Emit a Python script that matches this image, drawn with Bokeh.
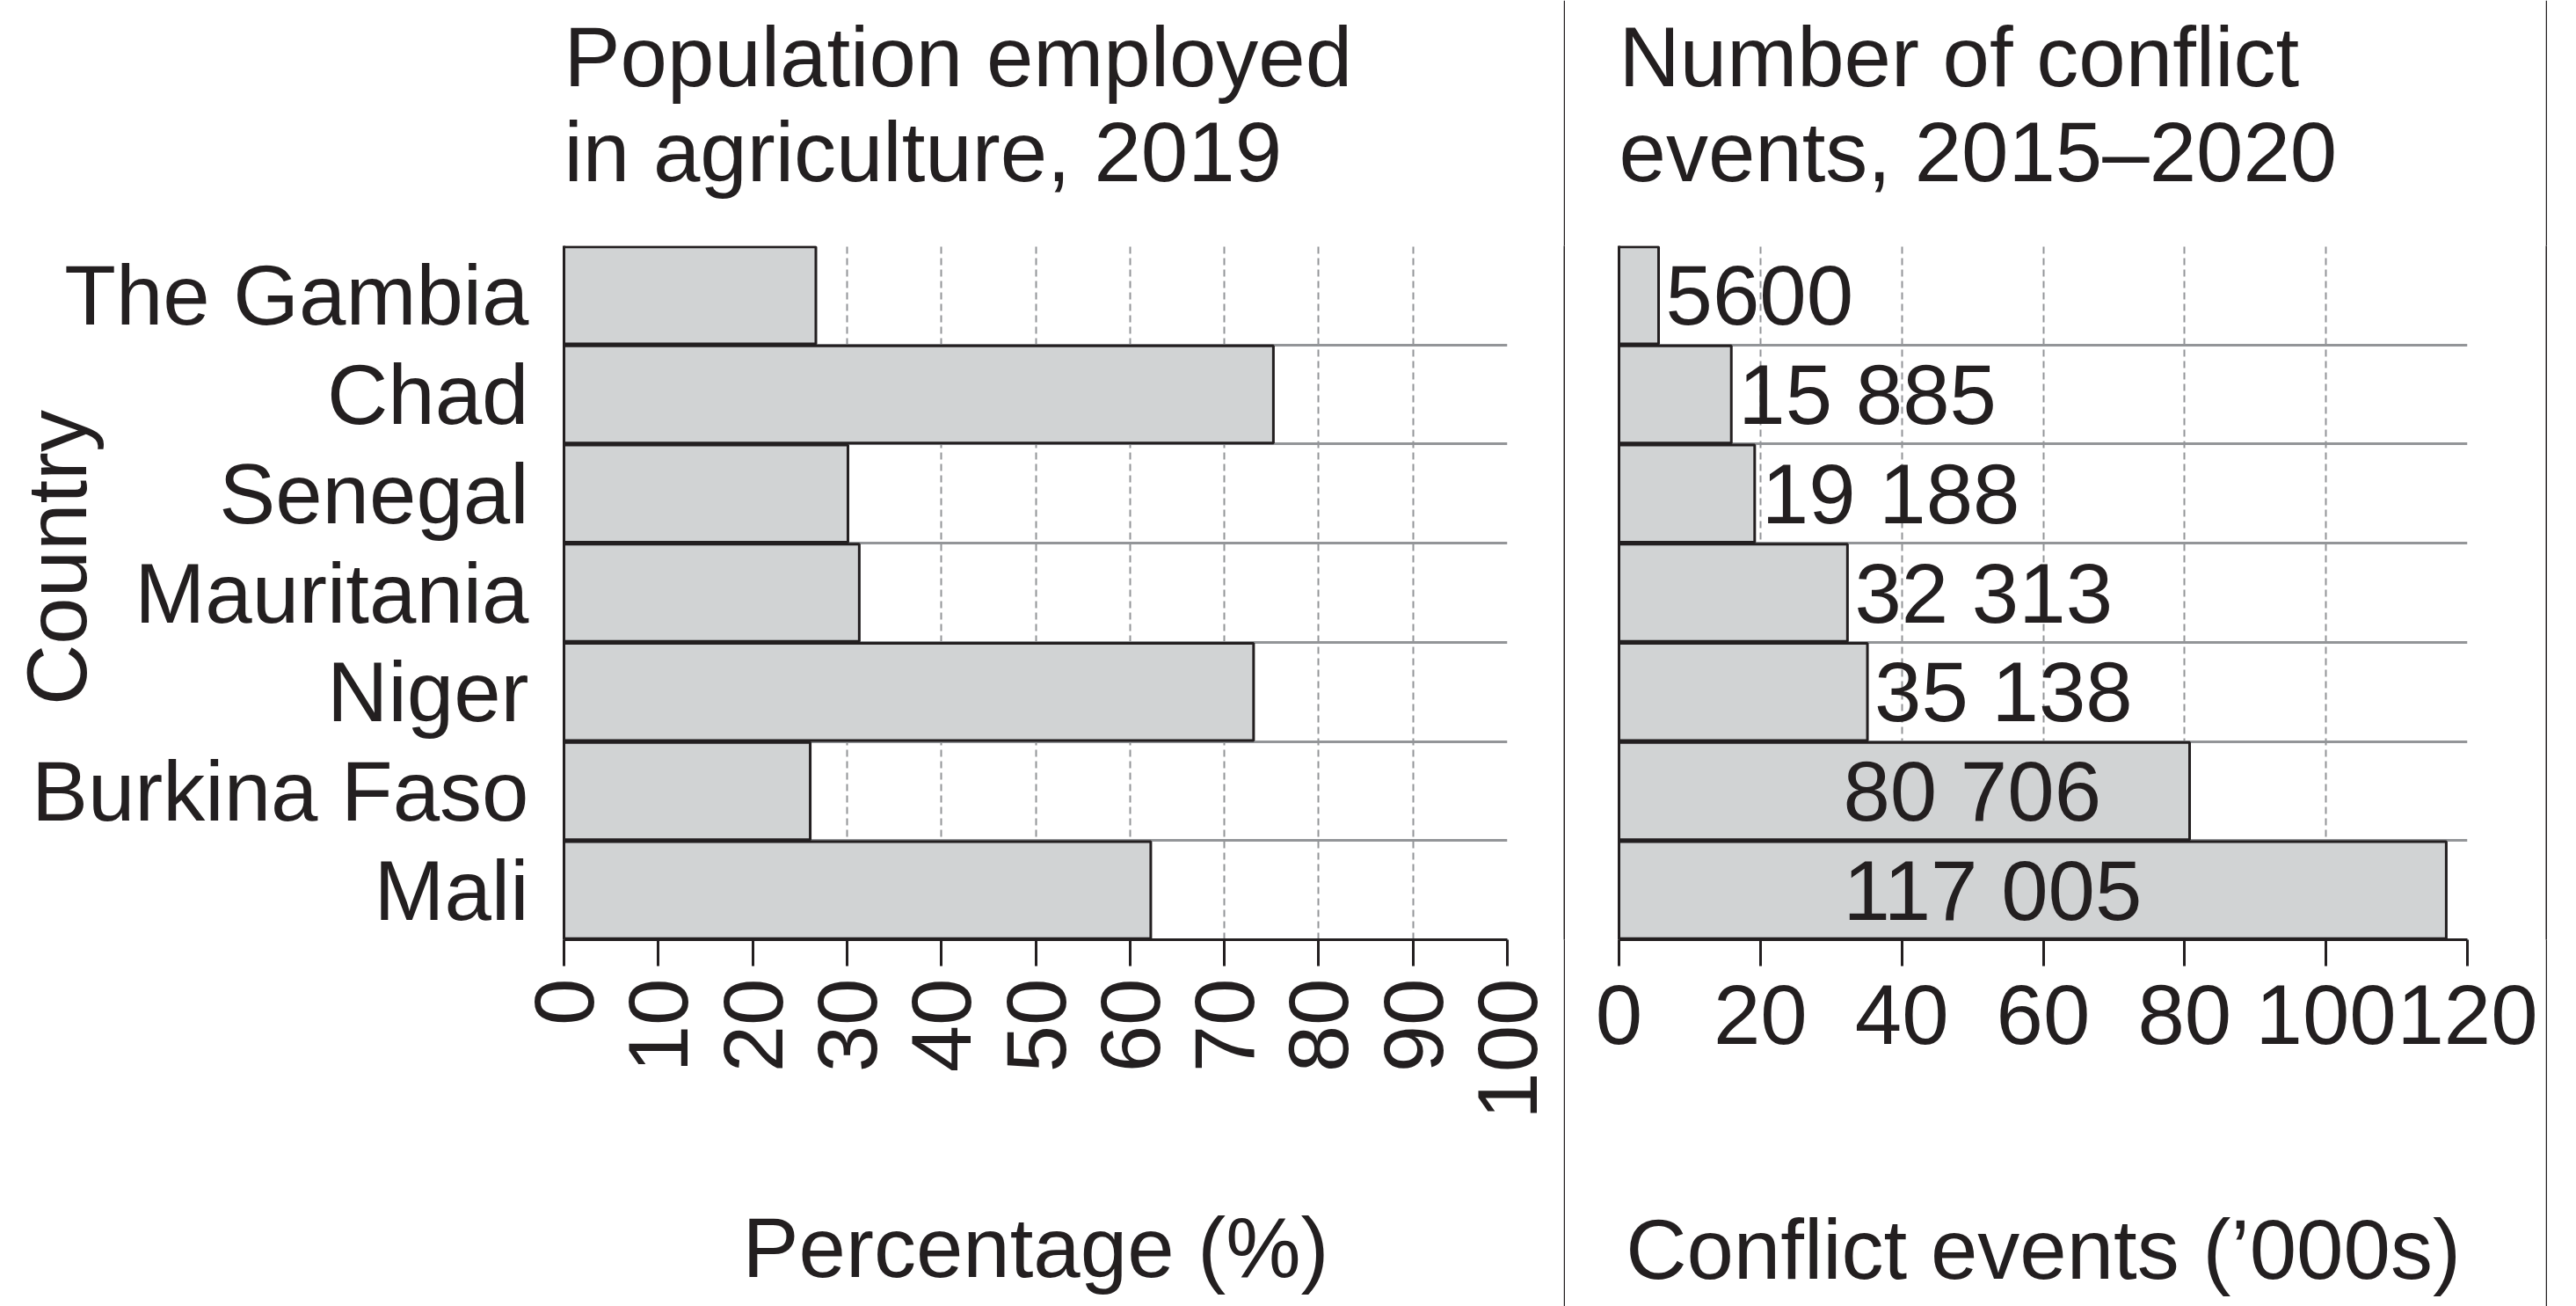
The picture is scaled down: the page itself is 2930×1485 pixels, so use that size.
import math
from bokeh.plotting import figure
from bokeh.models import FixedTicker, Title, LabelSet, ColumnDataSource
from bokeh.layouts import row
from bokeh.core.properties import value
from bokeh.embed import file_html
from bokeh.resources import INLINE

# ---------------- data ----------------
countries = ["The Gambia", "Chad", "Senegal", "Mauritania", "Niger", "Burkina Faso", "Mali"]
agri_pct = [26.7, 75.2, 30.1, 31.3, 73.1, 26.1, 62.2]
conflict_events = [5600, 15885, 19188, 32313, 35138, 80706, 117005]
pct_ticks = [0, 10, 20, 30, 40, 50, 60, 70, 80, 90, 100]
conflict_ticks = [0, 20, 40, 60, 80, 100, 120]

title_left = ["Population employed", "in agriculture, 2019"]
title_right = ["Number of conflict", "events, 2015\u20132020"]
xlabel_left = "Percentage (%)"
xlabel_right = "Conflict events (\u2019000s)"
ylabel = "Country"

# ---------------- styles ----------------
FONT = "Liberation Sans"
INK = "#231f20"
BAR = "#d1d3d4"
GRID = "#939598"
FS = "96px"

n = len(countries)
ycent = [n - i - 0.5 for i in range(n)]
bounds = list(range(n + 1))
H = 1485
TOP = 279
BOTTOM = H - TOP - 789


def fmt(v):
    return f"{v:,}".replace(",", " ") if v >= 10000 else str(v)


def style_common(p):
    p.outline_line_color = None
    p.background_fill_color = "white"
    p.border_fill_color = "white"
    p.ygrid.ticker = FixedTicker(ticks=bounds)
    p.ygrid.grid_line_color = GRID
    p.ygrid.grid_line_width = 3
    p.xgrid.grid_line_color = GRID
    p.xgrid.grid_line_width = 2
    p.xgrid.grid_line_dash = "8 5"
    ax = p.xaxis[0]
    ax.axis_line_color = INK
    ax.axis_line_width = 3
    ax.major_tick_line_color = INK
    ax.major_tick_line_width = 3
    ax.major_tick_out = 30
    ax.major_tick_in = 0
    ax.minor_tick_line_color = None
    ax.major_label_text_font = FONT
    ax.major_label_text_font_size = FS
    ax.major_label_text_color = INK
    ax.axis_label_text_font = FONT
    ax.axis_label_text_font_size = FS
    ax.axis_label_text_color = INK
    ax.axis_label_text_font_style = "normal"
    ax.axis_label_text_line_height = 0.9
    ay = p.yaxis[0]
    ay.axis_line_color = INK
    ay.axis_line_width = 3
    ay.major_tick_line_color = None
    ay.minor_tick_line_color = None
    ay.major_tick_out = 0
    ay.major_tick_in = 0
    ay.major_label_text_font = FONT
    ay.major_label_text_font_size = FS
    ay.major_label_text_color = INK
    ay.axis_label_text_font = FONT
    ay.axis_label_text_font_size = FS
    ay.axis_label_text_color = INK
    ay.axis_label_text_font_style = "normal"


def add_title(p, lines):
    # second line first (closest to the frame), then the first line above it
    p.add_layout(Title(text=lines[1], align="left", text_font=FONT, text_font_size=FS,
                       text_color=INK, text_font_style="normal", standoff=108), "above")
    p.add_layout(Title(text=lines[0], align="left", text_font=FONT, text_font_size=FS,
                       text_color=INK, text_font_style="normal", standoff=-110), "above")


def divider():
    d = figure(width=2, height=H, output_backend="svg", toolbar_location=None,
               x_axis_type=None, y_axis_type=None, min_border=0,
               x_range=(0, 1), y_range=(0, 1))
    d.outline_line_color = None
    d.background_fill_color = INK
    d.border_fill_color = INK
    d.grid.visible = False
    return d


# ---------------- left chart ----------------
left = figure(width=1778, height=H, x_range=(0, 100), y_range=(0, n),
              output_backend="svg", toolbar_location=None,
              min_border_left=641, min_border_right=64,
              min_border_top=TOP, min_border_bottom=BOTTOM)
src_l = ColumnDataSource(dict(y=ycent, v=agri_pct))
left.hbar(y="y", right="v", left=0, height=0.98, source=src_l,
          fill_color=BAR, line_color=INK, line_width=3)
style_common(left)
left.xaxis.ticker = FixedTicker(ticks=pct_ticks)
left.xgrid.ticker = FixedTicker(ticks=pct_ticks)
left.xaxis.major_label_orientation = math.pi / 2
left.xaxis.major_label_standoff = 14
left.xaxis.axis_label = xlabel_left
left.xaxis.axis_label_standoff = 89
left.yaxis.ticker = FixedTicker(ticks=ycent)
left.yaxis.major_label_overrides = {y: c for y, c in zip(ycent, countries)}
left.yaxis.major_label_standoff = 40
left.yaxis.axis_label = "\u00a0\u00a0\u00a0" + ylabel
left.yaxis.axis_label_standoff = -85
add_title(left, title_left)

# ---------------- right chart ----------------
right = figure(width=1115, height=H, x_range=(0, 120), y_range=(0, n),
               output_backend="svg", toolbar_location=None,
               min_border_left=61, min_border_right=89,
               min_border_top=TOP, min_border_bottom=BOTTOM)
conf_k = [v / 1000 for v in conflict_events]
lab_x = [k + 1.0 if k < 50 else 31.7 for k in conf_k]
src_r = ColumnDataSource(dict(y=ycent, v=conf_k, lx=lab_x,
                              t=[fmt(v) for v in conflict_events]))
right.hbar(y="y", right="v", left=0, height=0.98, source=src_r,
           fill_color=BAR, line_color=INK, line_width=3)
right.add_layout(LabelSet(x="lx", y="y", text="t", source=src_r,
                          text_align="left", text_baseline="middle",
                          text_font=value(FONT), text_font_size=value(FS),
                          text_color=INK))
style_common(right)
right.xaxis.ticker = FixedTicker(ticks=conflict_ticks)
right.xgrid.ticker = FixedTicker(ticks=conflict_ticks)
right.xaxis.major_label_standoff = 21
right.xaxis.axis_label = xlabel_right
right.xaxis.axis_label_standoff = 177
right.yaxis.ticker = FixedTicker(ticks=[])
add_title(right, title_right)

layout = row(left, divider(), right, divider())
open("out.html", "w").write(file_html(layout, INLINE))
